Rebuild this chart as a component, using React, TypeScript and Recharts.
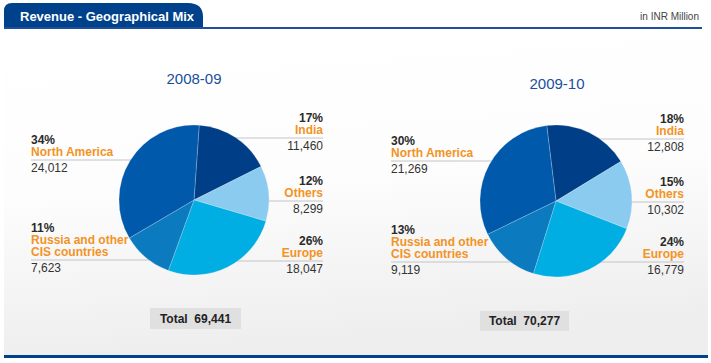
import { PieChart, Pie, Cell } from "recharts";

// slice order, clockwise from the top
const REGIONS = ["India", "Others", "Europe", "Russia and other CIS countries", "North America"];
const VALUES_0809 = [11460, 8299, 18047, 7623, 24012];
const VALUES_0910 = [12808, 10302, 16779, 9119, 21269];
const PCT_0809 = ["17%", "12%", "26%", "11%", "34%"];
const PCT_0910 = ["18%", "15%", "24%", "13%", "30%"];
const YEARS = ["2008-09", "2009-10"];
const TOTALS = ["69,441", "70,277"];

const COLORS = ["#003f87", "#8bcbef", "#00aee3", "#0b7abf", "#0059aa"];
const FONT = "'Liberation Sans', Arial, Helvetica, sans-serif";

const fmt = (n: number) => n.toLocaleString("en-US");

// where each pie sits and where its labels go
const PIES = [
  {
    cx: 194, cy: 200, r: 75, start: 86, year: { x: 194, y: 84 },
    leftX: 31, rightX: 323,
    labelY: [118, 181, 241, 228, 140],
    total: { x: 150, y: 308, w: 91, h: 21 },
    values: VALUES_0809, pct: PCT_0809,
  },
  {
    cx: 556, cy: 201, r: 76, start: 97, year: { x: 557, y: 89 },
    leftX: 391, rightX: 684,
    labelY: [119, 182, 242, 230, 141],
    total: { x: 480, y: 311, w: 89, h: 20 },
    values: VALUES_0910, pct: PCT_0910,
  },
];

const splitName = (name: string) =>
  name === "Russia and other CIS countries" ? ["Russia and other", "CIS countries"] : [name];

const Labels = ({ p }: { p: (typeof PIES)[number] }) => (
  <g>
    {REGIONS.map((name, i) => {
      const lines = splitName(name);
      const onLeft = i >= 3;
      const x = onLeft ? p.leftX : p.rightX;
      const anchor = onLeft ? "start" : "end";
      const y0 = p.labelY[i];
      const lineY = y0 + 8 + lines.length * 12;
      return (
        <g key={name}>
          <line
            x1={onLeft ? p.leftX : p.cx}
            x2={onLeft ? p.cx : p.rightX}
            y1={lineY}
            y2={lineY}
            stroke="#c4c4c4"
            strokeWidth={1}
          />
          <text x={x} y={y0 + 4} textAnchor={anchor} fontSize={12} fontWeight="bold" fill="#2a2a2a">
            {p.pct[i]}
          </text>
          {lines.map((t, k) => (
            <text key={t} x={x} y={y0 + 16 + k * 12} textAnchor={anchor} fontSize={12} fontWeight="bold" fill="#f39325">
              {t}
            </text>
          ))}
          <text x={x} y={lineY + 12} textAnchor={anchor} fontSize={12} fill="#333">
            {fmt(p.values[i])}
          </text>
        </g>
      );
    })}
    <text x={p.year.x} y={p.year.y} textAnchor="middle" fontSize={15} fill="#1b4f9c">
      {YEARS[PIES.indexOf(p)]}
    </text>
    <rect x={p.total.x} y={p.total.y} width={p.total.w} height={p.total.h} fill="#e0e0e0" />
    <text
      x={p.total.x + p.total.w / 2}
      y={p.total.y + p.total.h / 2 + 4}
      textAnchor="middle"
      fontSize={12}
      fontWeight="bold"
      fill="#222"
      style={{ whiteSpace: "pre" }}
    >
      {`Total  ${TOTALS[PIES.indexOf(p)]}`}
    </text>
  </g>
);

export default function App() {
  return (
    <div style={{ position: "absolute", left: 0, top: 0, width: 711, height: 363, fontFamily: FONT }}>
      <svg width={711} height={363} style={{ position: "absolute", left: 0, top: 0, fontFamily: FONT }}>
        <defs>
          <linearGradient id="bg" x1="0" y1="0" x2="0.15" y2="1">
            <stop offset="0" stopColor="#ffffff" />
            <stop offset="0.5" stopColor="#fdfdfd" />
            <stop offset="1" stopColor="#eeeeee" />
          </linearGradient>
        </defs>
        <rect x={0} y={0} width={711} height={363} fill="#ffffff" />
        <rect x={4} y={30} width={704} height={325} fill="url(#bg)" />
        {/* header tab */}
        <path d="M4,29 L4,11 Q4,3 12,3 L188,3 Q203,3 203,17 L203,29 Z" fill="#00418c" />
        <rect x={4} y={27} width={698} height={2} fill="#1d4f9a" />
        <text x={20} y={21} fontSize={13} fontWeight="bold" fill="#ffffff">
          Revenue - Geographical Mix
        </text>
        <text x={699} y={20} textAnchor="end" fontSize={10} fill="#444">
          in INR Million
        </text>
        <rect x={4} y={355} width={704} height={3} fill="#00418c" />
        {PIES.map((p) => (
          <Labels key={p.cx} p={p} />
        ))}
      </svg>
      <div style={{ position: "absolute", left: 0, top: 0 }}>
        <PieChart width={711} height={363} margin={{ top: 0, right: 0, bottom: 0, left: 0 }}>
          {PIES.map((p) => (
            <Pie
              key={p.cx}
              data={REGIONS.map((name, i) => ({ name, value: p.values[i] }))}
              dataKey="value"
              cx={p.cx}
              cy={p.cy}
              innerRadius={0}
              outerRadius={p.r}
              startAngle={p.start}
              endAngle={p.start - 360}
              stroke="#ffffff"
              strokeOpacity={0.35}
              strokeWidth={0.6}
              isAnimationActive={false}
            >
              {REGIONS.map((name, i) => (
                <Cell key={name} fill={COLORS[i]} />
              ))}
            </Pie>
          ))}
        </PieChart>
      </div>
    </div>
  );
}
